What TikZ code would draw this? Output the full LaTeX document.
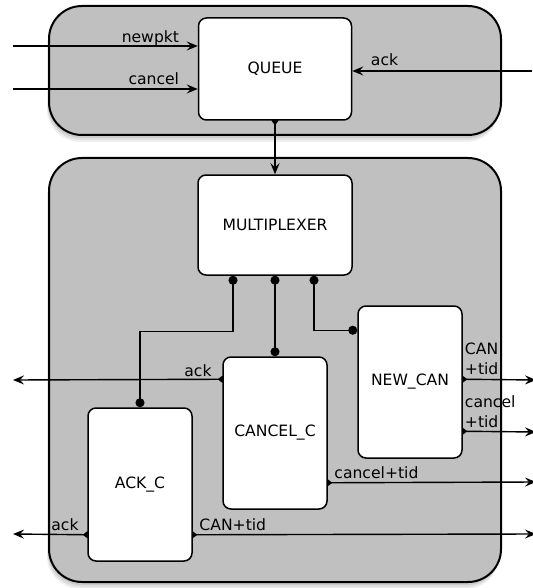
\documentclass[tikz,border=0pt]{standalone}
\usepackage{fontspec}
\setmainfont{DejaVu Sans}
\usetikzlibrary{arrows.meta,calc,shadows}
\pgfdeclarelayer{panel}
\pgfdeclarelayer{wires}
\pgfsetlayers{panel,wires,main}
\definecolor{panelgrey}{HTML}{C0C0C0}
\begin{document}
\begin{tikzpicture}[x=1pt,y=-1pt,
  font=\fontsize{15.6}{19.5}\selectfont,
  panel/.style={draw=black, line width=2pt, fill=panelgrey, rounded corners=33pt,
    drop shadow={shadow xshift=-2pt,shadow yshift=-7pt,opacity=0.12},
    drop shadow={shadow xshift=-1.5pt,shadow yshift=-5pt,opacity=0.15},
    drop shadow={shadow xshift=-1pt,shadow yshift=-3pt,opacity=0.2}},
  block/.style={draw=black, line width=1.5pt, fill=white, rounded corners=8pt, inner sep=0pt},
  wire/.style={line width=1.4pt},
  arr/.style={wire, -{Stealth[length=11pt,width=9pt,inset=4pt]}},
  srcarr/.style={wire, {Diamond[length=9pt,width=7pt]}-{Stealth[length=11pt,width=9pt,inset=4pt]}, shorten <=-4.5pt},
  dotted wire/.style={wire, {Circle[length=9pt]}-{Circle[length=9pt]}},
  lab/.style={inner sep=0pt}
]
\useasboundingbox (0,0) rectangle (532,588);

% panels
\begin{pgfonlayer}{panel}
  \node[panel, minimum width=452pt, minimum height=129pt] (qpanel) at (275,70.5) {};
  \node[panel, minimum width=452pt, minimum height=424pt] (cpanel) at (275,370) {};
\end{pgfonlayer}

% blocks
\node[block, minimum width=153pt, minimum height=102pt] (queue) at (275,69) {QUEUE};
\node[block, minimum width=154pt, minimum height=100pt] (mux) at (275,225) {MULTIPLEXER};
\node[block, minimum width=104pt, minimum height=152pt] (cancelc) at (275,433) {CANCEL\_C};
\node[block, minimum width=104pt, minimum height=152pt] (newcan) at (410,382) {NEW\_CAN};
\node[block, minimum width=104pt, minimum height=153pt] (ackc) at (140,484.5) {ACK\_C};

% free ends
\coordinate (inNew) at (13,46);
\coordinate (inCan) at (13,89);
\coordinate (inAck) at (532,71);
\coordinate (oAck1) at (13,380);
\coordinate (oAck2) at (13,534);
\coordinate (oNC1) at (536,380);
\coordinate (oNC2) at (536,432);
\coordinate (oCC) at (536,482);
\coordinate (oAC) at (536,534);
\coordinate (m1) at ($(mux.south)+(-42,0)$);
\coordinate (m3) at ($(mux.south)+(39,0)$);

\begin{pgfonlayer}{wires}
  % inputs to queue
  \draw[arr] (inNew) -- (inNew -| queue.west)
    node[lab, at end, anchor=base east, xshift=-18pt, yshift=3pt] {newpkt};
  \draw[arr] (inCan) -- (inCan -| queue.west)
    node[lab, at end, anchor=base east, xshift=-18pt, yshift=4pt] {cancel};
  \draw[arr] (inAck) -- (inAck -| queue.east)
    node[lab, at end, anchor=base west, xshift=18pt, yshift=5pt] {ack};
  % queue to multiplexer
  \draw[srcarr] (queue.south) -- (queue.south |- mux.north);
  % multiplexer to controllers
  \draw[dotted wire] (m1) -- ++(0,56) -| (ackc.north);
  \draw[dotted wire] (mux.south) -- (cancelc.north);
  \draw[dotted wire] (m3) |- ($(newcan.north west)+(0,25)$);
  % outputs
  \draw[srcarr] ($(cancelc.north west)+(0,23)$) -- (oAck1)
    node[lab, at start, anchor=base east, xshift=-10pt, yshift=3pt] {ack};
  \draw[srcarr] ($(ackc.south west)+(0,-27)$) -- (oAck2)
    node[lab, at start, anchor=base east, xshift=-8pt, yshift=4pt] {ack};
  \draw[srcarr] ($(ackc.south east)+(0,-27)$) -- (oAC)
    node[lab, at start, anchor=base west, xshift=6pt, yshift=4pt] {CAN+tid};
  \draw[srcarr] ($(cancelc.south east)+(0,-27)$) -- (oCC)
    node[lab, at start, anchor=base west, xshift=6pt, yshift=4pt] {cancel+tid};
  \draw[srcarr] ($(newcan.north east)+(0,74)$) -- (oNC1)
    node[lab, at start, anchor=south west, align=left, xshift=1.5pt, yshift=4pt] {CAN\\+tid};
  \draw[srcarr] ($(newcan.north east)+(0,126)$) -- (oNC2)
    node[lab, at start, anchor=south west, align=left, xshift=1.5pt, yshift=3pt] {cancel\\+tid};
\end{pgfonlayer}
\end{tikzpicture}
\end{document}
